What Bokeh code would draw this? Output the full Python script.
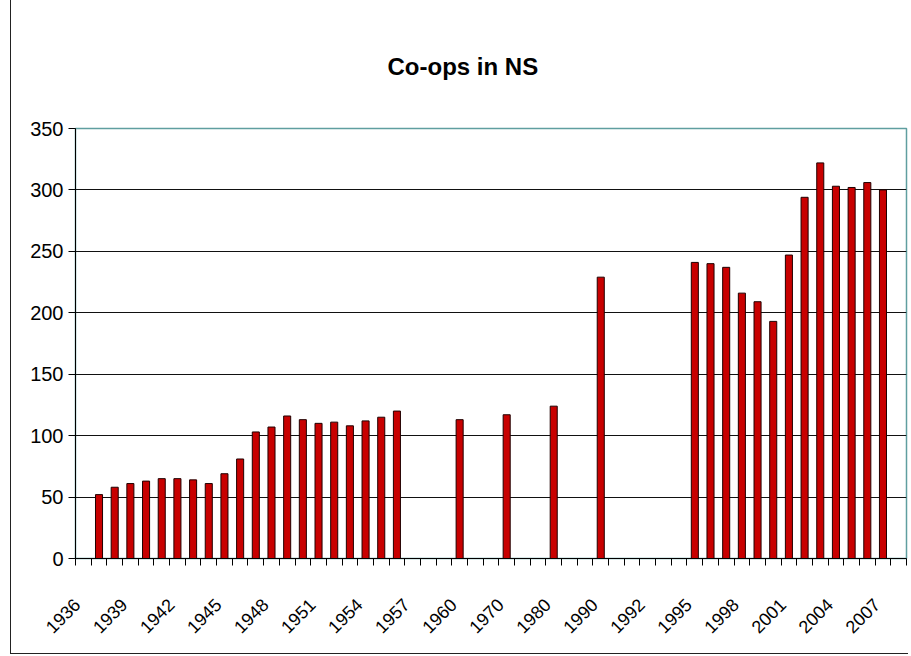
import math
from bokeh.plotting import figure
from bokeh.models import Range1d, FixedTicker, ColumnDataSource
from bokeh.embed import file_html
from bokeh.resources import INLINE

# ---- data ----
title_text = "Co-ops in NS"
# one entry per category slot on the x axis (53 slots); None = no bar
values = [None, 52, 58, 61, 63, 65, 65, 64, 61, 69, 81,
          103, 107, 116, 113, 110, 111, 108, 112, 115, 120,
          None, None, None, 113, None, None, 117, None, None, 124,
          None, None, 229, None, None, None, None, None,
          241, 240, 237, 216, 209, 193, 247, 294, 322, 303, 302, 306, 300,
          None]
# visible category labels (every third slot)
tick_labels = ["1936", "1939", "1942", "1945", "1948", "1951", "1954", "1957",
               "1960", "1970", "1980", "1990", "1992", "1995", "1998", "2001",
               "2004", "2007"]
label_step = 3
y_ticks = [0, 50, 100, 150, 200, 250, 300, 350]

# label anchor shift (fraction of a slot) so rotated labels end at slot centre
label_shift = -0.4

n_slots = len(values)
bar_x = [i for i, v in enumerate(values) if v is not None]
bar_top = [v for v in values if v is not None]
src = ColumnDataSource(dict(x=bar_x, top=bar_top))

p = figure(width=898, height=654, output_backend="svg", toolbar_location=None,
           x_range=Range1d(-0.5, n_slots - 0.5), y_range=Range1d(y_ticks[0], y_ticks[-1]),
           min_border_left=64, min_border_right=3, min_border_top=128,
           min_border_bottom=96, background_fill_color="white",
           border_fill_color="white")

p.title.text = title_text
p.title.align = "left"
p.title.offset = 312
p.title.standoff = 98
p.title.vertical_align = "bottom"
p.title.text_line_height = 0.2
p.title.text_font = "Liberation Sans"
p.title.text_font_size = "24px"
p.title.text_font_style = "bold"
p.title.text_color = "black"

p.vbar(x="x", top="top", width=0.45, source=src,
       fill_color="#c80000", line_color="#200000", line_width=1)

# y axis
p.yaxis.ticker = FixedTicker(ticks=y_ticks)
p.yaxis.major_tick_out = 7
p.yaxis.major_tick_in = 0
p.yaxis.minor_tick_line_color = None
p.yaxis.major_label_text_font = "Liberation Sans"
p.yaxis.major_label_text_font_size = "20px"
p.yaxis.major_label_text_color = "black"
p.yaxis.axis_line_color = "black"
p.yaxis.major_tick_line_color = "black"
p.yaxis.major_label_standoff = 5

# x axis: labels every third slot, tick marks between slots
label_pos = [i + label_shift for i in range(0, n_slots, label_step)][:len(tick_labels)]
boundaries = [i - 0.5 for i in range(n_slots + 1)]
p.xaxis.ticker = FixedTicker(ticks=label_pos, minor_ticks=boundaries)
p.xaxis.major_label_overrides = {pos: lab for pos, lab in zip(label_pos, tick_labels)}
p.xaxis.major_tick_out = 0
p.xaxis.major_tick_in = 0
p.xaxis.minor_tick_out = 7
p.xaxis.minor_tick_in = 0
p.xaxis.minor_tick_line_color = "black"
p.xaxis.axis_line_color = "black"
p.xaxis.major_label_orientation = math.pi / 4
p.xaxis.major_label_standoff = 36
p.xaxis.major_label_text_font = "Liberation Sans"
p.xaxis.major_label_text_font_size = "18px"
p.xaxis.major_label_text_color = "black"

p.xgrid.visible = False
p.ygrid.grid_line_color = "#111111"
p.ygrid.grid_line_width = 1

p.outline_line_color = "#5f9ea0"
p.outline_line_width = 1.5

p.styles = {"margin-left": "10px", "border-left": "1px solid #222",
            "border-bottom": "1px solid #222"}

open("out.html", "w").write(file_html(p, INLINE))
